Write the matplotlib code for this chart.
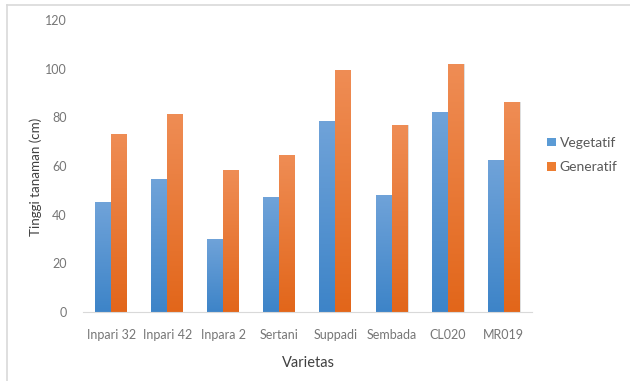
import numpy as np
import matplotlib.pyplot as plt
from matplotlib.colors import LinearSegmentedColormap
from matplotlib.lines import Line2D
from matplotlib.patches import Patch

plt.rcParams['font.family'] = ['Lato', 'DejaVu Sans']

# plant height per variety (cm)
varietas = ["Inpari 32", "Inpari 42", "Inpara 2", "Sertani",
            "Suppadi", "Sembada", "CL020", "MR019"]
vegetatif = [45, 54.5, 30, 47.3, 78.5, 48.2, 82, 62.3]
generatif = [73.1, 81.5, 58.3, 64.6, 99.4, 76.7, 102, 86.3]

blue_cmap = LinearSegmentedColormap.from_list("blue", ["#3d84c8", "#70a3d9"])
orange_cmap = LinearSegmentedColormap.from_list("orange", ["#e2661a", "#ef8d55"])


def gradient_fill(ax, bars, cmap):
    """Paint each bar with a vertical gradient, darker at the base."""
    grad = np.linspace(0, 1, 256).reshape(-1, 1)
    for b in bars:
        x, w, h = b.get_x(), b.get_width(), b.get_height()
        b.set_facecolor("none")
        im = ax.imshow(grad, cmap=cmap, origin="lower", aspect="auto",
                       extent=(x, x + w, 0, h), zorder=2)
        im.set_clip_path(b)
        # faint shadow on the right edge
        ax.bar(x + w + 0.006, h, width=0.012, align="edge",
               color="#c8c8c8", alpha=0.6, zorder=1)


fig = plt.figure(figsize=(6.3, 3.81), dpi=100)
ax = fig.add_axes([0.132, 0.181, 0.712, 0.767])

x = np.arange(len(varietas))
w = 0.285
b1 = ax.bar(x - w / 2, vegetatif, width=w, linewidth=0, zorder=2)
b2 = ax.bar(x + w / 2, generatif, width=w, linewidth=0, zorder=2)
gradient_fill(ax, b1, blue_cmap)
gradient_fill(ax, b2, orange_cmap)

ax.set_xlim(-0.5, len(varietas) - 0.5)
ax.set_ylim(0, 120)
ax.set_yticks(range(0, 121, 20))
ax.set_xticks(x)
ax.set_xticklabels(varietas)
ax.tick_params(axis="both", length=0, labelsize=9, colors="#767676")
ax.tick_params(axis="y", pad=12)
ax.tick_params(axis="x", pad=12)
for s in ["top", "right", "left"]:
    ax.spines[s].set_visible(False)
ax.spines["bottom"].set_color("#d9d9d9")

ax.set_ylabel("Tinggi tanaman (cm)", fontsize=9.6, color="#404040")
ax.yaxis.set_label_coords(-0.092, 0.462)
ax.set_xlabel("Varietas", fontsize=10.5, color="#404040")
ax.xaxis.set_label_coords(0.502, -0.149)

handles = [Patch(facecolor="#5b9bd5", label="Vegetatif"),
           Patch(facecolor="#ed7d31", label="Generatif")]
fig.legend(handles=handles, loc="center left", bbox_to_anchor=(0.849, 0.593),
           frameon=False, fontsize=10, labelcolor="#595959",
           handlelength=0.6, handleheight=0.6, handletextpad=0.3,
           labelspacing=0.9)

# chart-area border (top and left edges)
fig.add_artist(Line2D([0.011, 1.0], [0.987, 0.987], color="#d9d9d9", lw=1.2))
fig.add_artist(Line2D([0.011, 0.011], [0.0, 0.987], color="#d9d9d9", lw=1.2))

fig.savefig("out.png", dpi=100, facecolor="white")
